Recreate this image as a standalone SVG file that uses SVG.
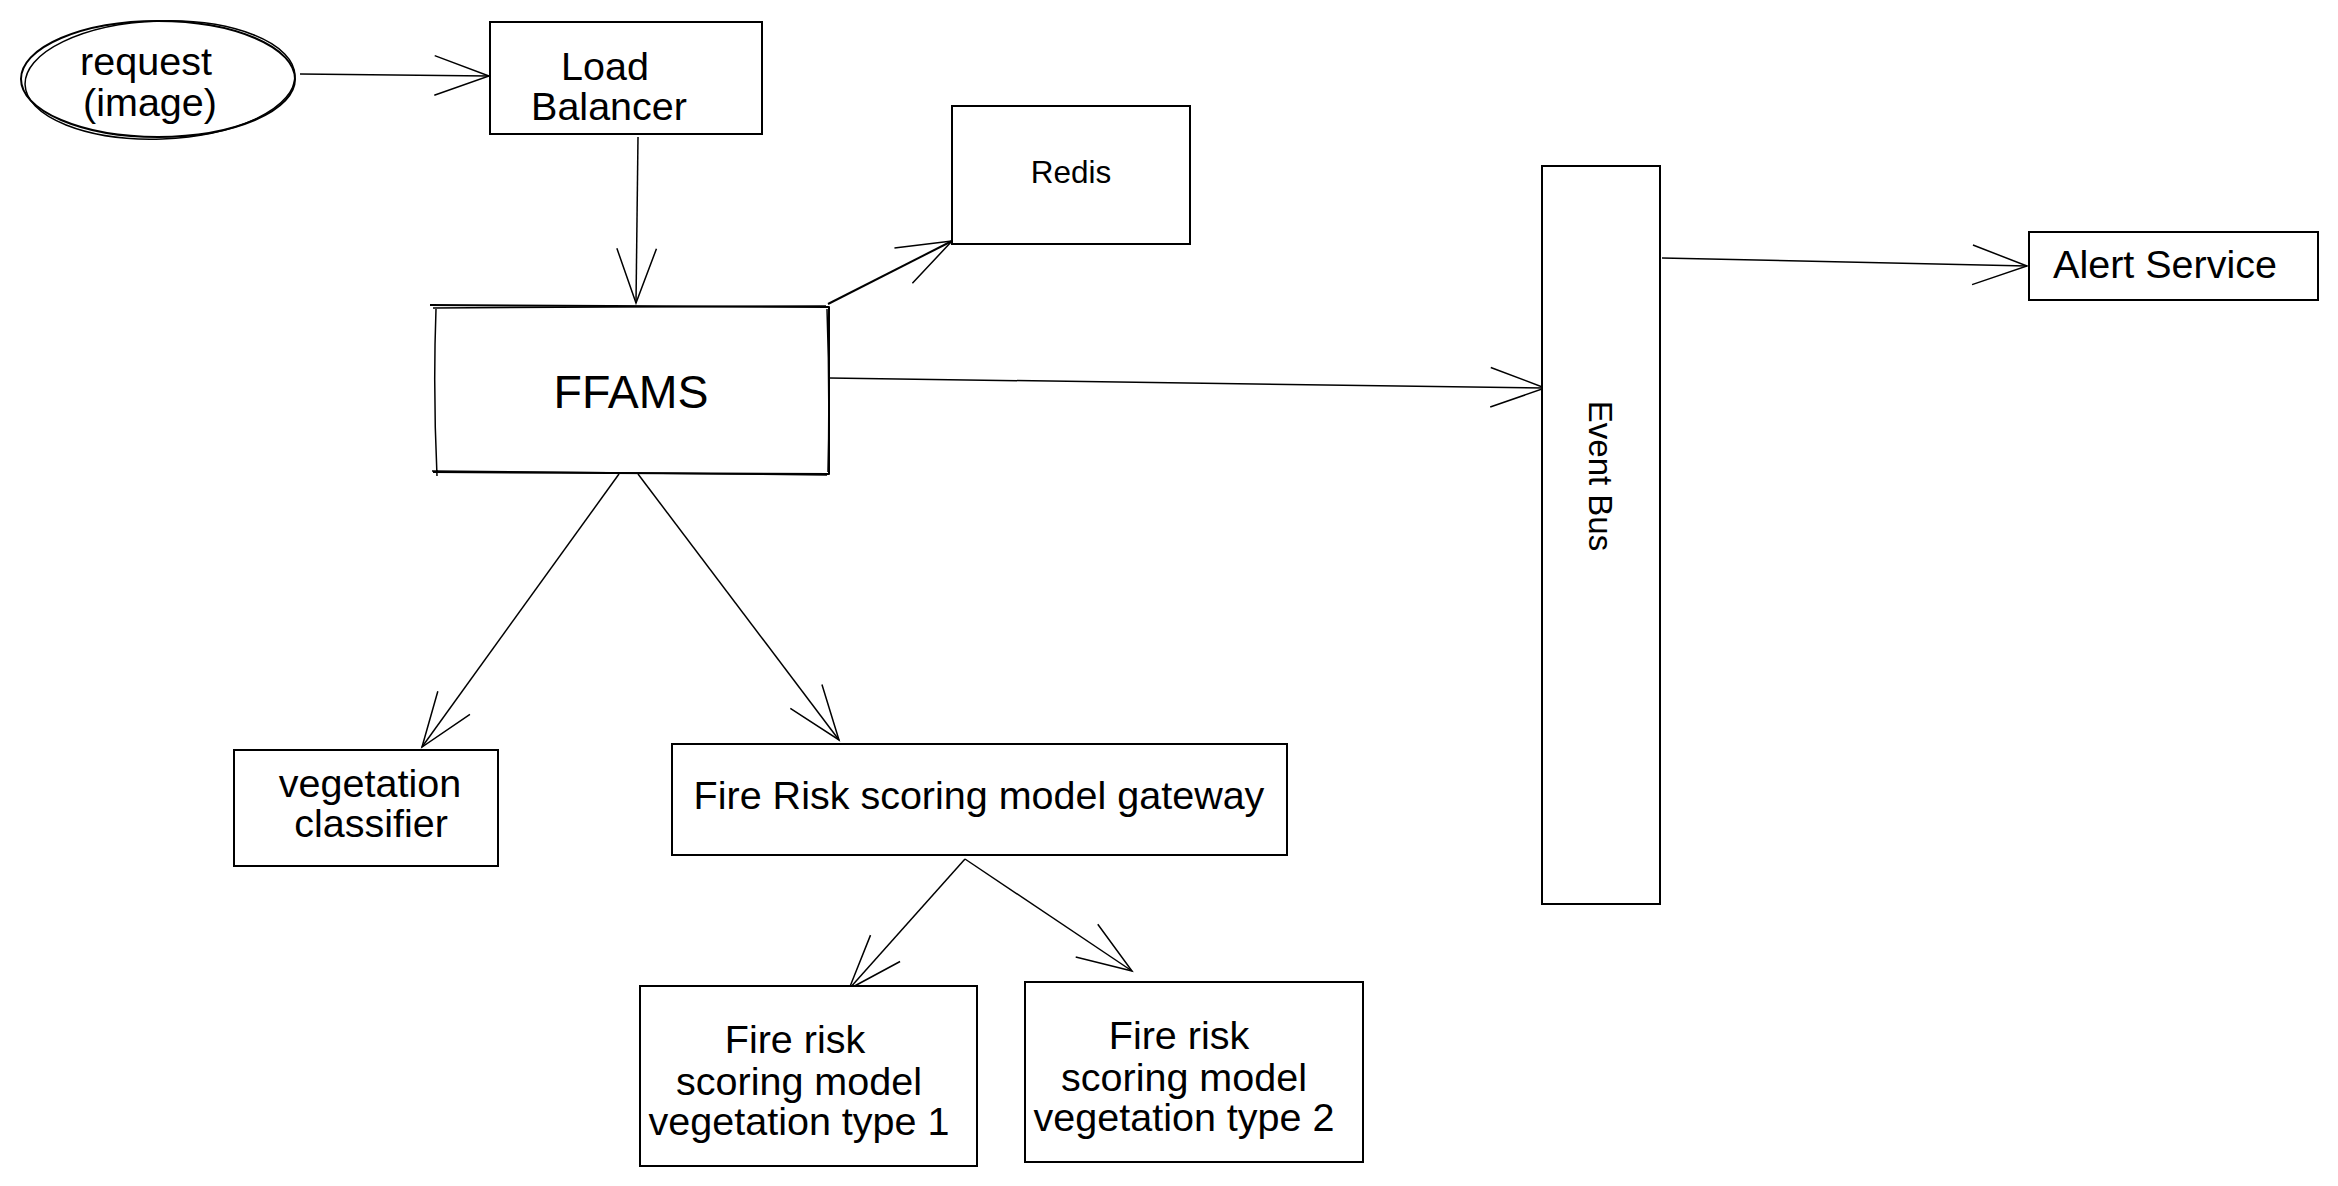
<svg xmlns="http://www.w3.org/2000/svg" width="2338" height="1186" viewBox="0 0 2338 1186">
<style>
.box{fill:#fff;stroke:#000;stroke-width:2}
.sk{fill:none;stroke:#000;stroke-width:2;stroke-linejoin:round}
.t{font-family:"Liberation Sans",Arial,Helvetica,sans-serif;font-size:39.5px;fill:#000;text-anchor:middle}
.s{font-size:31.5px}
.eb{font-size:33px}
.big{font-size:46.5px}
.c{fill:none;stroke:#000;stroke-width:1.5}
</style>
<defs>
<marker id="open" markerUnits="userSpaceOnUse" orient="auto" markerWidth="70" markerHeight="50" refX="0" refY="0" viewBox="-60 -25 70 50" overflow="visible">
<path d="M-54.5,-19.8 L0,0 L-54.5,19.8" fill="none" stroke="#000" stroke-width="1.5"/>
</marker>
</defs>
<rect width="2338" height="1186" fill="#fff"/>
<g id="connectors">
<path class="c" d="M300,74 L489,76" marker-end="url(#open)"/>
<path class="c" d="M638,137 L636,303" marker-end="url(#open)"/>
<path class="c" d="M828,304 L952,241" marker-end="url(#open)" style="stroke-width:2"/>
<path class="c" d="M829,378 L1545,388" marker-end="url(#open)"/>
<path class="c" d="M1662,258 L2027,266" marker-end="url(#open)"/>
<path class="c" d="M619,474 L422,747" marker-end="url(#open)"/>
<path class="c" d="M638,474 L839,740" marker-end="url(#open)"/>
<path class="c" d="M965,859 L849,989" marker-end="url(#open)"/>
<path class="c" d="M965,859 L1132,971" marker-end="url(#open)"/>
</g>
<g id="request">
<ellipse class="sk" cx="158" cy="79" rx="137" ry="58"/>
<ellipse class="sk" cx="160" cy="80" rx="135" ry="59" transform="rotate(-2 160 80)" style="stroke-width:1.5"/>
<text class="t" x="146" y="75">request</text>
<text class="t" x="150" y="116">(image)</text>
</g>
<g id="load-balancer">
<rect class="box" x="490" y="22" width="272" height="112"/>
<text class="t" x="605" y="80">Load</text>
<text class="t" x="609" y="120">Balancer</text>
</g>
<g id="ffams">
<rect x="435" y="307" width="393" height="165" fill="#fff"/>
<path class="sk" d="M430,305 L829,307 L829,474 L433,472"/>
<path class="sk" d="M436,309 Q433,390 437,476 M432,471 L827,475 M433,308 L826,306 M827,309 Q830,390 828,472" style="stroke-width:1.5"/>
<text class="t big" x="631" y="408">FFAMS</text>
</g>
<g id="redis">
<rect class="box" x="952" y="106" width="238" height="138"/>
<text class="t s" x="1071" y="183">Redis</text>
</g>
<g id="event-bus">
<rect class="box" x="1542" y="166" width="118" height="738"/>
<text class="t eb" transform="translate(1601,476) rotate(90)" x="0" y="12">Event Bus</text>
</g>
<g id="alert-service">
<rect class="box" x="2029" y="232" width="289" height="68"/>
<text class="t" x="2165" y="278">Alert Service</text>
</g>
<g id="vegetation-classifier">
<rect class="box" x="234" y="750" width="264" height="116"/>
<text class="t" x="370" y="797">vegetation</text>
<text class="t" x="371" y="837">classifier</text>
</g>
<g id="gateway">
<rect class="box" x="672" y="744" width="615" height="111"/>
<text class="t" x="979" y="809">Fire Risk scoring model gateway</text>
</g>
<g id="model-type-1">
<rect class="box" x="640" y="986" width="337" height="180"/>
<text class="t" x="795" y="1053">Fire risk</text>
<text class="t" x="799" y="1095">scoring model</text>
<text class="t" x="799" y="1135">vegetation type 1</text>
</g>
<g id="model-type-2">
<rect class="box" x="1025" y="982" width="338" height="180"/>
<text class="t" x="1179" y="1049">Fire risk</text>
<text class="t" x="1184" y="1091">scoring model</text>
<text class="t" x="1184" y="1131">vegetation type 2</text>
</g>
</svg>
